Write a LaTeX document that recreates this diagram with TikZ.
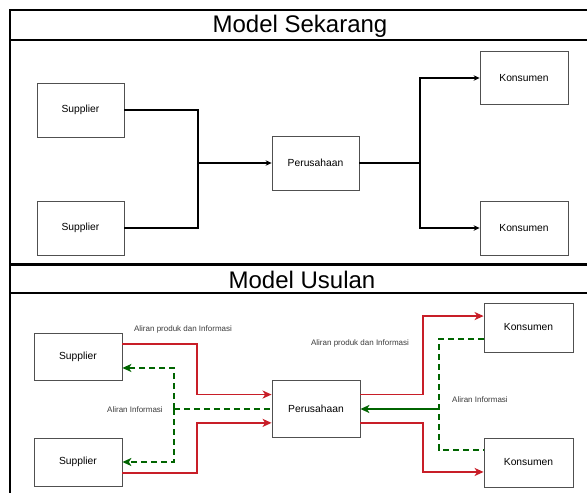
\documentclass[tikz,border=0pt]{standalone}
\usepackage{fontspec}
\setmainfont{Liberation Sans}
\usetikzlibrary{arrows.meta,calc}
\definecolor{boxgray}{RGB}{80,80,80}
\definecolor{flowred}{RGB}{200,30,40}
\definecolor{flowgreen}{RGB}{0,100,0}
\definecolor{labgray}{RGB}{60,60,60}
\tikzset{
  tbl/.style={line width=2.2pt, black},
  title/.style={font=\fontsize{24}{27}\selectfont, inner sep=0pt},
  ent/.style={draw=boxgray, line width=0.8pt, fill=white, font=\fontsize{10.3}{12}\selectfont, inner sep=0pt},
  plain/.style={draw=black, line width=1.1pt, -{Stealth[length=6pt,width=5.5pt]}},
  plainline/.style={draw=black, line width=1.1pt},
  redflow/.style={draw=flowred, line width=1.8pt, -{Stealth[length=9pt,width=8pt,inset=2.5pt]}},
  greendash/.style={draw=flowgreen, line width=1.8pt, dash pattern=on 6pt off 4pt},
  greenarrow/.style={draw=flowgreen, line width=1.8pt, -{Stealth[length=9pt,width=8pt,inset=2.5pt]}},
  lab/.style={font=\fontsize{8}{9.5}\selectfont, text=labgray, fill=white, inner sep=1.5pt}
}
\begin{document}
\begin{tikzpicture}[x=1pt,y=-1pt]
\path[use as bounding box] (0,0) rectangle (587,493);
\clip (0,0) rectangle (587,493);
% table
\draw[tbl] (10,10) -- (600,10);
\draw[tbl] (10,40) -- (600,40);
\draw[tbl] (10,264.5) -- (600,264.5);
\draw[tbl] (10,293) -- (600,293);
\draw[tbl] (10,9) -- (10,500);
\node[title] (t1) at (300,26) {Model Sekarang};
\node[title] (t2) at (302,280) {Model Usulan};
% ---------- top section
\node[ent, minimum width=87pt, minimum height=54pt] (s1) at (80.5,110) {Supplier};
\node[ent, minimum width=87pt, minimum height=54pt] (s2) at (80.5,228) {Supplier};
\node[ent, minimum width=87pt, minimum height=54pt] (p1) at (315.5,163) {Perusahaan};
\node[ent, minimum width=88pt, minimum height=53pt] (k1) at (524,78) {Konsumen};
\node[ent, minimum width=88pt, minimum height=54pt] (k2) at (524,228) {Konsumen};
\coordinate (jl) at (198,163);
\coordinate (jr) at (420,163);
\draw[plainline] (s1.east) -| (jl);
\draw[plainline] (s2.east) -| (jl);
\draw[plain] (jl) -- (p1.west);
\draw[plainline] (p1.east) -- (jr);
\draw[plain] (jr) |- (k1.west);
\draw[plain] (jr) |- (k2.west);
% ---------- bottom section
\node[ent, minimum width=88pt, minimum height=47pt] (sa) at (78,356.5) {Supplier};
\node[ent, minimum width=88pt, minimum height=48pt] (sb) at (78,462) {Supplier};
\node[ent, minimum width=88pt, minimum height=57pt] (p2) at (316,409) {Perusahaan};
\node[ent, minimum width=89pt, minimum height=49pt] (ka) at (528.5,327.5) {Konsumen};
\node[ent, minimum width=89pt, minimum height=49pt] (kb) at (528.5,462.5) {Konsumen};
% red flows
\coordinate (saout) at ($(sa.north east)!0.24!(sa.south east)$);
\coordinate (sbout) at ($(sb.north east)!0.73!(sb.south east)$);
\coordinate (p2inA) at ($(p2.north west)!0.25!(p2.south west)$);
\coordinate (p2inB) at ($(p2.north west)!0.74!(p2.south west)$);
\coordinate (p2outA) at ($(p2.north east)!0.25!(p2.south east)$);
\coordinate (p2outB) at ($(p2.north east)!0.74!(p2.south east)$);
\coordinate (kain) at ($(ka.north west)!0.27!(ka.south west)$);
\coordinate (kbin) at ($(kb.north west)!0.69!(kb.south west)$);
\coordinate (rl) at (197,0);
\coordinate (rr) at (423,0);
\draw[redflow] (saout) -- (saout -| rl) -- (p2inA -| rl) -- (p2inA);
\draw[redflow] (sbout) -- (sbout -| rl) -- (p2inB -| rl) -- (p2inB);
\draw[redflow] (p2outA) -- (p2outA -| rr) -- (kain -| rr) -- (kain);
\draw[redflow] (p2outB) -- (p2outB -| rr) -- (kbin -| rr) -- (kbin);
% green flows
\coordinate (gl) at (174,409);
\coordinate (gr) at (439,409);
\coordinate (sain) at ($(sa.north east)!0.74!(sa.south east)$);
\coordinate (kaout) at ($(ka.north west)!0.73!(ka.south west)$);
\coordinate (kbout) at ($(kb.north west)!0.25!(kb.south west)$);
\draw[draw=flowgreen, line width=1.8pt, dash pattern=on 6pt off 4pt] (gl) -- (p2.west);
\draw[greendash, -{Stealth[length=9pt,width=8pt,inset=2.5pt]}] (gl) -- (gl |- sain) -- (sain);
\draw[greendash, -{Stealth[length=9pt,width=8pt,inset=2.5pt]}] (gl) -- (gl |- sb.east) -- (sb.east);
\draw[greendash] (kaout) -- (kaout -| gr) -- (kbout -| gr) -- (kbout);
\draw[draw=flowgreen, line width=1.8pt, -{Stealth[length=9pt,width=8pt,inset=2.5pt]}] (gr) -- (p2.east);
% labels
\node[lab] (l1) at (183,329) {Aliran produk dan Informasi};
\node[lab] (l2) at (135,410) {Aliran Informasi};
\node[lab] (l3) at (360,343) {Aliran produk dan Informasi};
\node[lab] (l4) at (480,400) {Aliran Informasi};
\end{tikzpicture}
\end{document}
